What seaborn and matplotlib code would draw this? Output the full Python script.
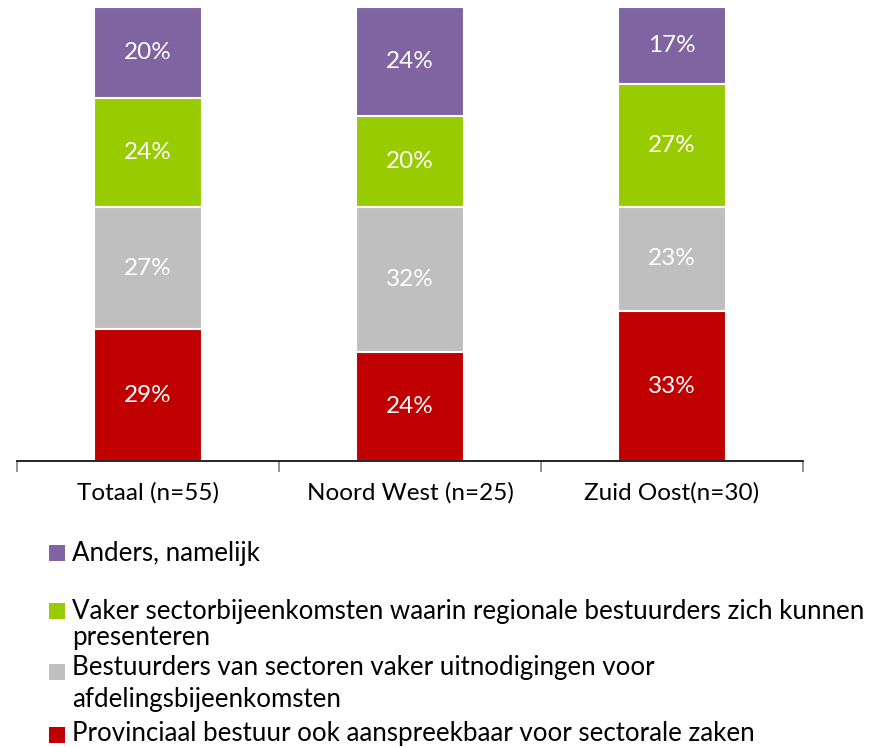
import matplotlib
matplotlib.use("Agg")
import matplotlib.pyplot as plt
import seaborn as sns
import numpy as np
import pandas as pd
from matplotlib.patches import Rectangle

categories = ["Totaal (n=55)", "Noord West (n=25)", "Zuid Oost(n=30)"]
series = [
    "Provinciaal bestuur ook aanspreekbaar voor sectorale zaken",
    "Bestuurders van sectoren vaker uitnodigingen voor\nafdelingsbijeenkomsten",
    "Vaker sectorbijeenkomsten waarin regionale bestuurders zich kunnen\npresenteren",
    "Anders, namelijk",
]
provinciaal = [29, 24, 33]
bestuurders = [27, 32, 23]
vaker = [24, 20, 27]
anders = [20, 24, 17]
colors = ["#C00000", "#BFBFBF", "#99CC00", "#8064A2"]

sns.set_theme(style="white")
plt.rcParams["font.family"] = ["Lato", "DejaVu Sans"]

values = [provinciaal, bestuurders, vaker, anders]
cum = np.cumsum(np.array(values, dtype=float), axis=0)

fig = plt.figure(figsize=(8.71, 7.47), dpi=100)
ax = fig.add_axes([17/871, (747-461)/747, (803-17)/871, (461-7)/747])

# draw from top cumulative down so lower segments overlay
for i in range(len(values)-1, -1, -1):
    df = pd.DataFrame({"cat": categories, "val": cum[i]})
    sns.barplot(data=df, x="cat", y="val", color=colors[i], saturation=1,
                width=0.41, edgecolor="white", linewidth=1.5, ax=ax)

for i in range(len(values)):
    for j in range(len(categories)):
        mid = cum[i][j] - values[i][j] / 2
        ax.text(j, mid, f"{values[i][j]}%", ha="center", va="center",
                color="white", fontsize=17.5)

ax.set_ylim(0, 100)
ax.set_xlim(-0.5, 2.5)
ax.set_xlabel("")
ax.set_ylabel("")
ax.set_yticks([])
for s in ["top", "right", "left"]:
    ax.spines[s].set_visible(False)
ax.spines["bottom"].set_color("black")
ax.spines["bottom"].set_linewidth(1.2)
ax.set_xticks([0, 1, 2])
ax.set_xticklabels(categories, fontsize=17.5, color="black")
ax.tick_params(axis="x", which="major", length=0, pad=15)
ax.set_xticks([-0.5, 0.5, 1.5, 2.5], minor=True)
ax.tick_params(axis="x", which="minor", length=8, color="#808080", width=1.2,
               bottom=True)

# legend (manual)
entries = [
    (3, 553, [553]),
    (2, 611, [612, 638]),
    (1, 672, [668, 700]),
    (0, 735, [733]),
]
for idx, sq_y, line_ys in entries:
    fig.patches.append(Rectangle((49/871, 1 - (sq_y + 8)/747), 16/871, 16/747,
                                 transform=fig.transFigure, facecolor=colors[idx],
                                 edgecolor="none"))
    for k, line in enumerate(series[idx].split("\n")):
        fig.text(72/871, 1 - line_ys[k]/747, line, ha="left", va="center",
                 fontsize=18.6, color="black")

fig.savefig("out.png", dpi=100)
